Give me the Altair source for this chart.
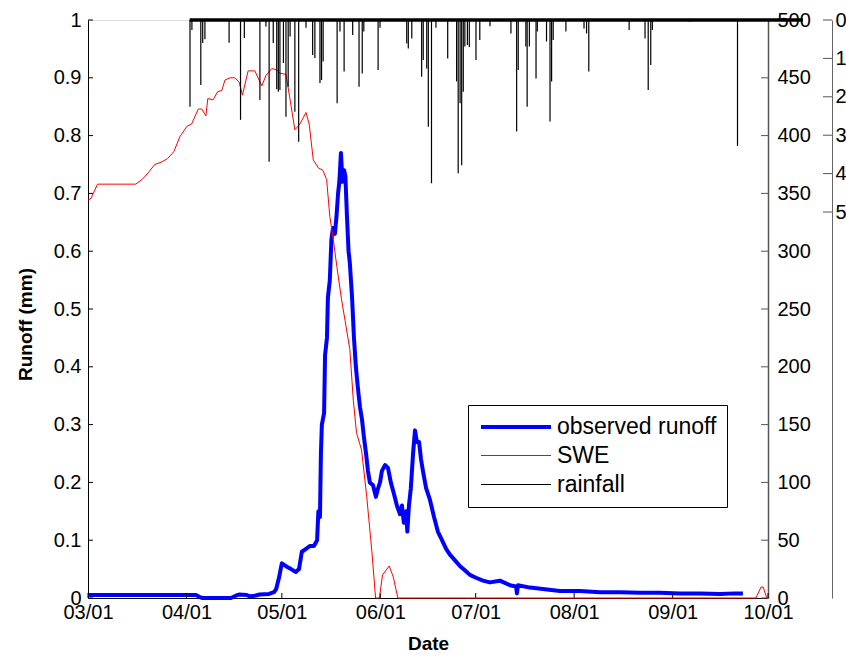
import altair as alt
import pandas as pd

BASE = pd.Timestamp("2010-03-01")

# ---- data (day offsets from 03/01) ----
runoff_day = [0, 34.0, 35.0, 36.0, 45.0, 46.5, 47.5, 50.0, 51.0, 52.5, 54.0, 57.0, 58.5, 59.2, 60.1,
              61.0, 62.3, 63.9, 65.4, 66.4, 67.3, 68.6, 69.9, 71.1, 72.1, 72.5, 73.0, 73.3, 73.6, 74.3,
              74.6, 75.2, 75.5, 76.1, 76.6, 77.1, 77.7, 78.2, 78.7, 79.1, 79.6, 80.1, 80.6, 81.0, 81.5,
              82.0, 82.4, 83.1, 83.7, 84.3, 85.0, 85.6, 86.2, 86.8, 87.5, 88.1, 88.7, 89.7, 90.6, 91.3,
              91.9, 92.5, 93.5, 94.4, 95.3, 96.3, 97.2, 98.2, 98.8, 99.4, 100.1, 100.5, 101.0, 101.6,
              102.3, 102.9, 103.5, 104.2, 104.8, 105.4, 106.4, 107.6, 108.9, 110.1, 111.4, 112.7, 113.9,
              115.5, 117.1, 118.6, 120.2, 122.1, 124.3, 126.5, 129.6, 132.8, 134.7, 135.0, 135.3, 139.1,
              143.8, 148.5, 154.8, 161.1, 167.4, 173.7, 180.0, 186.3, 192.6, 198.9, 203.6, 206.1]
runoff_val = [0.005, 0.005, 0.002, 0.0, 0.0, 0.004, 0.006, 0.005, 0.003, 0.004, 0.006, 0.007, 0.01, 0.015, 0.035,
              0.06, 0.055, 0.05, 0.045, 0.05, 0.08, 0.085, 0.09, 0.09, 0.1, 0.15, 0.14, 0.25, 0.3, 0.32,
              0.42, 0.45, 0.52, 0.55, 0.62, 0.64, 0.63, 0.66, 0.70, 0.72, 0.77, 0.72, 0.74, 0.73, 0.66,
              0.60, 0.58, 0.52, 0.45, 0.40, 0.36, 0.33, 0.31, 0.28, 0.25, 0.22, 0.20, 0.195, 0.175, 0.19,
              0.20, 0.22, 0.23, 0.225, 0.20, 0.18, 0.16, 0.145, 0.16, 0.13, 0.15, 0.115, 0.16, 0.19,
              0.25, 0.29, 0.27, 0.27, 0.24, 0.22, 0.19, 0.17, 0.14, 0.115, 0.10, 0.085, 0.075,
              0.065, 0.055, 0.048, 0.04, 0.035, 0.03, 0.027, 0.03, 0.022, 0.02, 0.008, 0.022, 0.018,
              0.015, 0.012, 0.012, 0.01, 0.01, 0.009, 0.009, 0.008, 0.008, 0.007, 0.008, 0.008]

swe_day = [0, 1.0, 3.0, 15.0, 17.0, 19.0, 21.0, 23.0, 25.0, 27.0, 28.9, 31.1, 32.6, 34.7, 35.8,
           37.1, 37.7, 39.4, 40.8, 42.1, 43.1, 44.7, 46.3, 47.6, 48.6, 50.4, 52.5, 54.7, 56.0, 57.8,
           59.4, 60.4, 62.3, 63.6, 65.1, 66.7, 68.6, 69.6, 70.9, 72.5, 73.9, 75.1, 76.1, 77.2, 78.3,
           79.8, 80.9, 82.4, 83.5, 84.5, 86.1, 87.7, 89.3, 90.5, 91.7, 92.7, 94.8, 96.1, 97.5, 210.2,
           211.8, 212.5, 213.6, 214.0]
swe_val = [344, 346, 358, 358, 362, 368, 375, 377, 380, 386, 399, 408, 410, 423, 423,
           417, 432, 431, 438, 439, 448, 450, 450, 446, 435, 456, 456, 443, 452, 458,
           457, 454, 453, 431, 405, 410, 420, 410, 379, 372, 370, 362, 330, 310, 287,
           258, 240, 215, 171, 143, 128, 88, 41.5, 0, 0, 20, 27.7, 18, 0, 0,
           9.5, 9.5, 0, 0]

rain_day = [32.1, 32.7, 35.5, 36.1, 36.8, 44.4, 48.0, 49.2, 54.1, 56.0, 57.0, 58.3, 59.4, 59.9, 60.4,
            61.5, 62.3, 63.0, 63.6, 65.1, 66.3, 68.6, 70.7, 71.4, 73.0, 73.5, 74.0, 78.4, 79.3, 80.6,
            83.3, 85.3, 86.3, 86.8, 91.3, 91.9, 100.3, 100.8, 101.9, 105.0, 105.5, 106.6, 107.1, 108.1,
            109.5, 113.2, 116.0, 116.5, 117.1, 117.6, 118.1, 118.6, 119.4, 120.0, 122.1, 123.3, 126.5,
            133.1, 134.9, 135.4, 137.8, 138.2, 138.9, 141.0, 141.4, 144.3, 145.4, 145.9, 146.4, 150.4,
            156.1, 156.9, 157.6, 170.3, 175.3, 176.3, 177.1, 177.6, 189.4, 204.4]
rain_val = [2.26, 0.26, 1.69, 0.6, 0.5, 0.59, 2.6, 0.47, 2.08, 0.17, 3.69, 0.6, 1.8, 1.87, 1.82,
            1.12, 2.52, 1.74, 0.43, 2.39, 3.17, 0.2, 0.91, 0.99, 1.64, 1.56, 1.08, 2.17, 0.3, 1.34,
            0.39, 1.74, 1.39, 0.3, 1.30, 0.2, 0.61, 0.74, 0.48, 1.48, 1.04, 1.26, 2.78, 4.25,
            0.2, 1.0, 1.6, 3.99, 2.17, 3.78, 1.87, 0.69, 0.65, 0.7, 1.04, 0.52, 0.16,
            0.35, 2.9, 1.3, 0.69, 2.26, 0.69, 1.52, 0.3, 0.56, 2.64, 1.6, 0.52, 0.3,
            0.22, 0.35, 1.34, 0.26, 0.48, 1.82, 1.17, 0.26, 0.05, 3.28]
rain_record_span = [32.0, 225.0]   # extent of the rainfall record (zero baseline)

series_names = ["observed runoff", "SWE", "rainfall"]
series_colors = ["#0000ff", "#ff0000", "#000000"]
series_widths = [4, 1, 1.2]

runoff_ticks = [0, 0.1, 0.2, 0.3, 0.4, 0.5, 0.6, 0.7, 0.8, 0.9, 1]
swe_ticks = [0, 50, 100, 150, 200, 250, 300, 350, 400, 450, 500]
rain_ticks = [0, 1, 2, 3, 4, 5]
month_ticks = [3, 4, 5, 6, 7, 8, 9, 10]

FONT = "Liberation Sans"
W, H = 680, 578
FS = 20


def iso(days):
    return [(BASE + pd.Timedelta(days=d)).strftime("%Y-%m-%dT%H:%M:%SZ") for d in days]


runoff_df = pd.DataFrame({"date": iso(runoff_day), "runoff": runoff_val, "series": series_names[0]})
swe_df = pd.DataFrame({"date": iso(swe_day), "swe": swe_val, "series": series_names[1]})
rain_df = pd.DataFrame({"date": iso(rain_day), "rain": rain_val, "rain0": 0.0, "series": series_names[2]})
rain_base_df = pd.DataFrame({"date": iso(rain_record_span), "rain": [0.0, 0.0]})
month_dates = iso([(pd.Timestamp(2010, m, 1) - BASE).days for m in month_ticks])
month_df = pd.DataFrame({"date": month_dates})
runoff_tick_df = pd.DataFrame({"runoff": runoff_ticks})
swe_tick_df = pd.DataFrame({"swe": swe_ticks})
rain_tick_df = pd.DataFrame({"rain": rain_ticks})

x_scale = alt.Scale(type="utc", nice=False,
                    domain=[alt.DateTime(year=2010, month=3, date=1, utc=True),
                            alt.DateTime(year=2010, month=10, date=1, utc=True)])
x_axis = alt.Axis(values=[alt.DateTime(year=2010, month=m, date=1, utc=True) for m in month_ticks],
                  labelExpr="utcFormat(datum.value, '%m/%d')", title="Date", ticks=False, grid=False,
                  labelFont=FONT, labelFontSize=FS, labelColor="black", labelPadding=4,
                  labelFlush=False, labelOverlap=False, domainColor="black", zindex=0,
                  titleFont=FONT, titleFontSize=19, titleFontWeight="bold", titleColor="black",
                  titlePadding=12)
X = alt.X("date:T", scale=x_scale, axis=x_axis)

legend = alt.Legend(title=None, orient="none", legendX=380, legendY=385,
                    symbolType="M-3.5,0L3.5,0", symbolSize=400, symbolOffset=26,
                    labelOffset=29, labelFont=FONT, labelFontSize=23, labelColor="black",
                    strokeColor="black", fillColor="white", padding=10, rowPadding=5,
                    labelLimit=300)
color = alt.Color("series:N", scale=alt.Scale(domain=series_names, range=series_colors), legend=legend)
swidth = alt.StrokeWidth("series:N", scale=alt.Scale(type="ordinal", domain=series_names, range=series_widths),
                         legend=legend)

# runoff (left axis)
runoff_scale = alt.Scale(domain=[0, 1], nice=False)
runoff_axis = alt.Axis(orient="left", values=runoff_ticks, format=".1~f", ticks=False, grid=False,
                       labelFont=FONT, labelFontSize=FS, labelColor="black", labelPadding=7,
                       domainColor="black", title="Runoff (mm)", titleFont=FONT, titleFontSize=19,
                       titleFontWeight="bold", titleColor="black", titlePadding=18, titleY=304,
                       zindex=0)
Yr = alt.Y("runoff:Q", scale=runoff_scale, axis=runoff_axis)

runoff_line = alt.Chart(runoff_df).mark_line(strokeJoin="round").encode(
    x=X, y=Yr, color=color, strokeWidth=swidth)
runoff_tk = alt.Chart(runoff_tick_df).mark_rule(color="black", strokeWidth=1).encode(
    y=Yr, x=alt.value(0), x2=alt.value(5))
month_tk = alt.Chart(month_df).mark_rule(color="black", strokeWidth=1).encode(
    x=X, y=alt.value(H), y2=alt.value(H - 5))
g_runoff = alt.layer(runoff_line, runoff_tk, month_tk)

# SWE (first right axis)
swe_scale = alt.Scale(domain=[0, 500], nice=False)
swe_axis = alt.Axis(orient="right", values=swe_ticks, ticks=False, grid=False, title=None,
                    labelFont=FONT, labelFontSize=FS, labelColor="black", labelPadding=9,
                    domainColor="#555555", domainWidth=1.5, zindex=0)
Ys = alt.Y("swe:Q", scale=swe_scale, axis=swe_axis)
swe_line = alt.Chart(swe_df).mark_line().encode(x=X, y=Ys, color=color, strokeWidth=swidth)
swe_tk = alt.Chart(swe_tick_df).mark_rule(color="#555555", strokeWidth=1).encode(
    y=Ys, x=alt.value(W), x2=alt.value(W - 7))
g_swe = alt.layer(swe_line, swe_tk)

# rainfall (second right axis, reversed)
rain_scale = alt.Scale(domain=[0, 15.05], reverse=True, nice=False, zero=True)
rain_axis = alt.Axis(orient="right", offset=64, values=rain_ticks, ticks=False, grid=False, title=None,
                     labelFont=FONT, labelFontSize=FS, labelColor="black", labelPadding=3,
                     domainColor="#666666", domainWidth=1, zindex=0)
Yp = alt.Y("rain:Q", scale=rain_scale, axis=rain_axis)
rain_bars = alt.Chart(rain_df).mark_rule().encode(
    x=X, y=Yp, y2="rain0:Q", color=color, strokeWidth=swidth)
rain_base = alt.Chart(rain_base_df).mark_line(color="black", strokeWidth=3.5, clip=False).encode(
    x=X, y=Yp)
rain_tk = alt.Chart(rain_tick_df).mark_rule(color="#555555", strokeWidth=1).encode(
    y=Yp, x=alt.value(W + 64), x2=alt.value(W + 55))
g_rain = alt.layer(rain_bars, rain_base, rain_tk)

chart = alt.layer(g_runoff, g_swe, g_rain).resolve_scale(y="independent").properties(
    width=W, height=H,
    autosize=alt.AutoSizeParams(type="none"),
    padding={"left": 88, "top": 20, "right": 78, "bottom": 59},
    background="white",
).configure_view(stroke="black", strokeWidth=1).configure(font=FONT)

chart.save("out.html", embed_options={"renderer": "svg", "actions": False})
